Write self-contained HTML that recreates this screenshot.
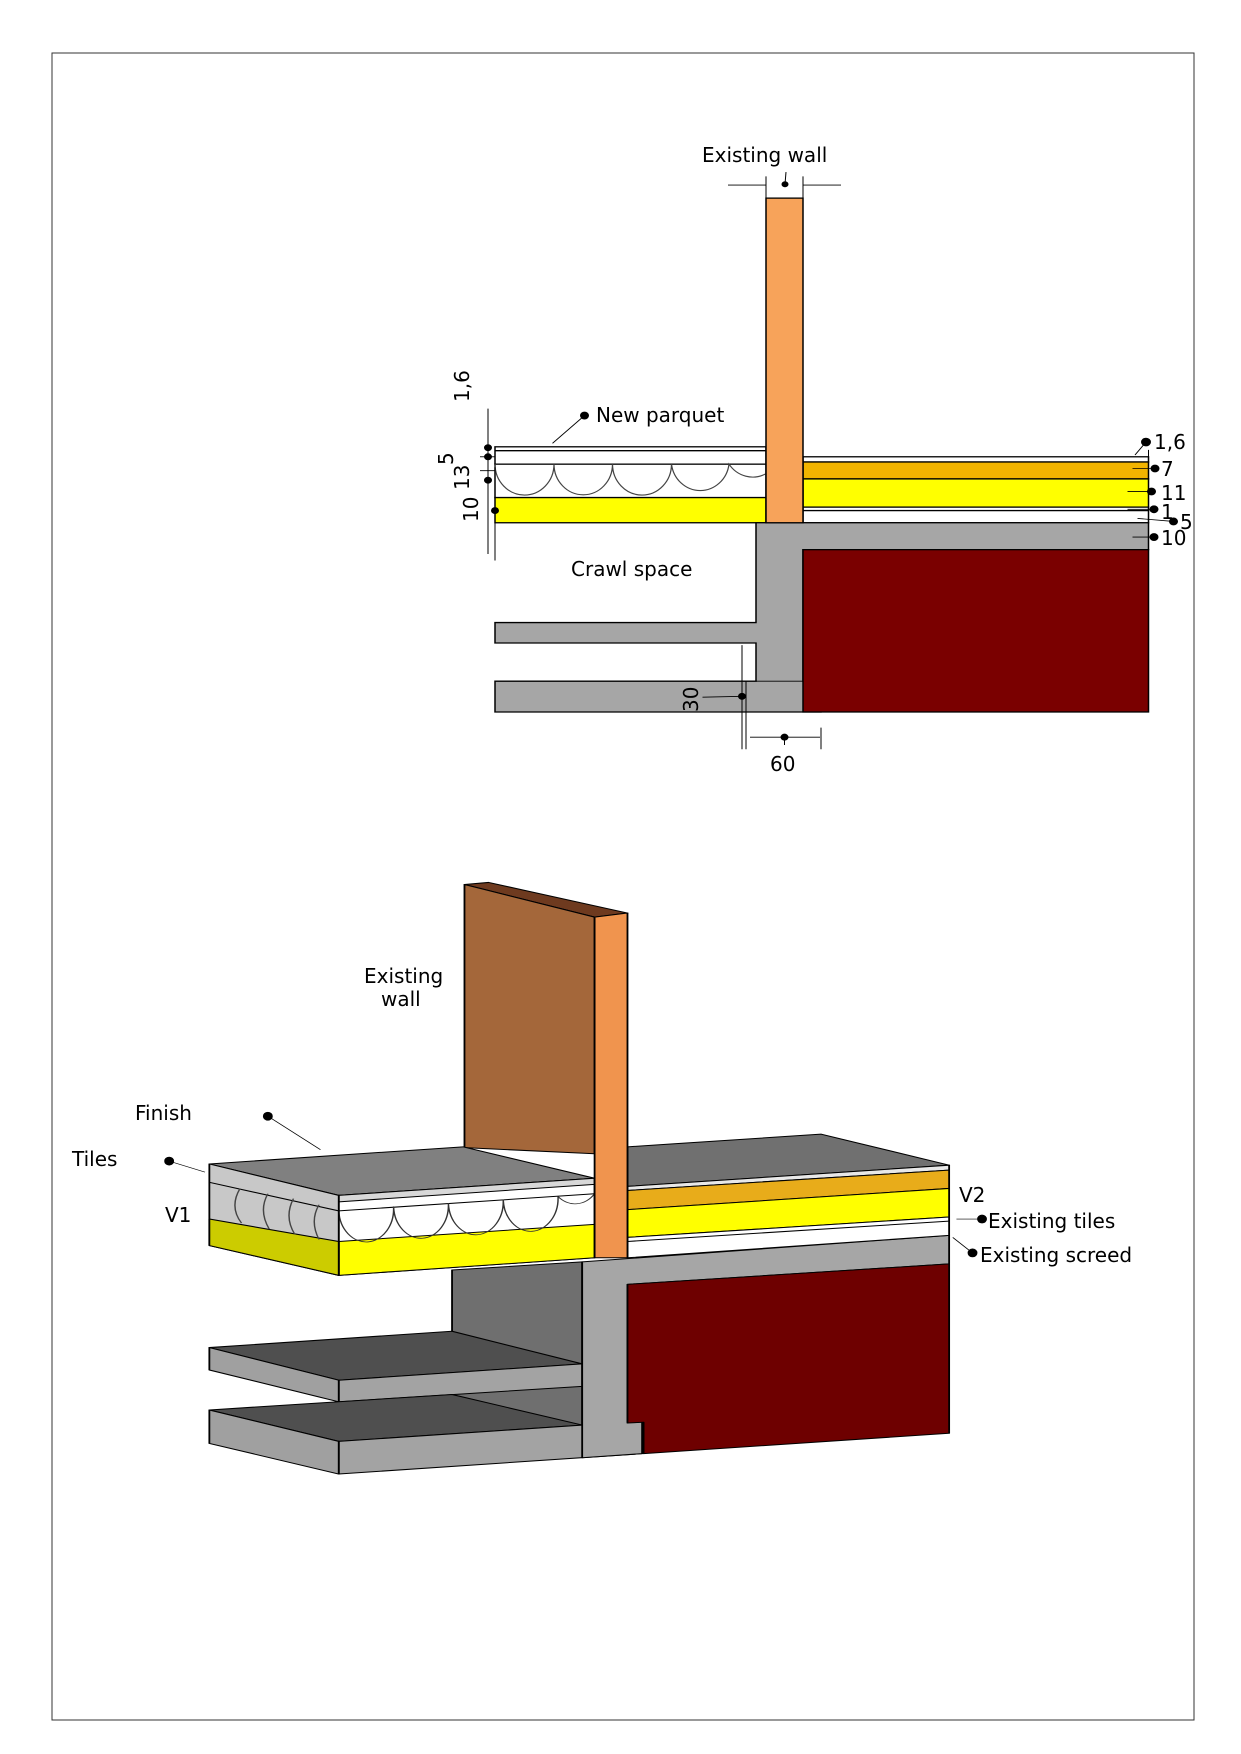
<!DOCTYPE html>
<html><head><meta charset="utf-8"><style>html,body{margin:0;padding:0;background:#fff;overflow:hidden}svg{display:block}text{font-family:"DejaVu Sans","Liberation Sans",sans-serif;fill:#000}</style></head>
<body>
<svg width="1241" height="1754" viewBox="0 0 1241 1754" xmlns="http://www.w3.org/2000/svg">
<rect x="52" y="53" width="1142" height="1667" fill="none" stroke="#333" stroke-width="1"/>
<g transform="translate(440,120) scale(0.5,0.434)" stroke="#000" stroke-width="3">
 <rect x="110" y="753" width="542" height="40" fill="#fff"/>
 <line x1="110" y1="762" x2="652" y2="762"/>
 <rect x="110" y="793" width="542" height="77" fill="#fff"/>
 <path d="M110,793 A58,70 0 0 0 228,793 A58,70 0 0 0 345,793 A58,70 0 0 0 463,793 A58,70 0 0 0 578,793 A58,70 0 0 0 652,815" fill="none" stroke="#444" stroke-width="2.5"/>
 <rect x="110" y="870" width="542" height="58" fill="#ffff00"/>
 <rect x="726" y="776" width="691" height="12" fill="#fff"/>
 <rect x="726" y="788" width="691" height="39" fill="#f2b400"/>
 <rect x="726" y="827" width="691" height="65" fill="#ffff00"/>
 <rect x="726" y="892" width="691" height="8" fill="#fff"/>
 <rect x="726" y="900" width="691" height="28" fill="#fff"/>
 <path d="M632,928 L1417,928 L1417,990 L726,990 L726,1293 L762,1293 L762,1364 L110,1364 L110,1293 L632,1293 L632,1205 L110,1205 L110,1158 L632,1158 Z" fill="#a6a6a6"/>
 <line x1="632" y1="1293" x2="726" y2="1293" stroke-width="2"/>
 <rect x="726" y="990" width="691" height="374" fill="#7a0000"/>
 <rect x="652" y="180" width="74" height="748" fill="#f7a35a"/>
 <g stroke-width="2" fill="#000">
  <line x1="576" y1="150" x2="652" y2="150"/><line x1="726" y1="150" x2="802" y2="150"/>
  <circle cx="690" cy="148" r="6"/><line x1="692" y1="120" x2="690" y2="148"/>
  <line x1="652" y1="130" x2="652" y2="180"/><line x1="726" y1="130" x2="726" y2="180"/>
  <circle cx="289" cy="681" r="8"/><line x1="289" y1="681" x2="225" y2="745"/>
  <line x1="96" y1="665" x2="96" y2="1000"/><line x1="110" y1="800" x2="110" y2="1015"/>
  <line x1="80" y1="776" x2="110" y2="776"/><line x1="80" y1="808" x2="110" y2="808"/>
  <circle cx="96" cy="755" r="7"/><circle cx="96" cy="776" r="7"/><circle cx="96" cy="830" r="7"/><circle cx="110" cy="900" r="7"/>
  <line x1="1417" y1="760" x2="1417" y2="980"/>
  <circle cx="1412" cy="742" r="9"/><line x1="1412" y1="742" x2="1390" y2="772"/>
  <circle cx="1430" cy="803" r="8"/><line x1="1385" y1="803" x2="1430" y2="803"/>
  <circle cx="1423" cy="856" r="8"/><line x1="1375" y1="856" x2="1423" y2="856"/>
  <circle cx="1428" cy="897" r="8"/><line x1="1375" y1="897" x2="1428" y2="897"/>
  <circle cx="1467" cy="925" r="8"/><line x1="1395" y1="918" x2="1467" y2="925"/>
  <circle cx="1428" cy="961" r="8"/><line x1="1385" y1="961" x2="1428" y2="961"/>
  <line x1="604" y1="1210" x2="604" y2="1450"/><line x1="612" y1="1293" x2="612" y2="1450"/>
  <circle cx="604" cy="1328" r="7"/><line x1="525" y1="1330" x2="604" y2="1328"/>
  <line x1="620" y1="1422" x2="760" y2="1422"/><circle cx="689" cy="1422" r="7"/>
  <line x1="762" y1="1400" x2="762" y2="1450"/><line x1="689" y1="1422" x2="689" y2="1440"/>
 </g>
</g>
<g font-size="20">
 <text x="702" y="162">Existing wall</text>
 <text x="596" y="422">New parquet</text>
 <text x="571" y="576">Crawl space</text>
 <text x="770" y="771">60</text>
 <text x="1154" y="449">1,6</text>
 <text x="1161" y="476">7</text>
 <text x="1161" y="500">11</text>
 <text x="1161" y="519">1</text>
 <text x="1180" y="529">5</text>
 <text x="1161" y="545">10</text>
 <text transform="translate(698,712) rotate(-90)">30</text>
 <text transform="translate(469,402) rotate(-90)">1,6</text>
 <text transform="translate(453,465) rotate(-90)">5</text>
 <text transform="translate(469,490) rotate(-90)">13</text>
 <text transform="translate(478,522) rotate(-90)">10</text>
</g>
<g transform="translate(50,860) scale(0.731,0.408)" stroke="#000" stroke-width="2.5" stroke-linejoin="round">
 <polygon points="550,1005 728,985 728,1390 550,1390" fill="#6f6f6f"/>
 <polygon points="218,1195 550,1155 728,1235 395,1275" fill="#4f4f4f"/>
 <polygon points="395,1275 728,1235 728,1290 395,1328" fill="#a3a3a3"/>
 <polygon points="218,1195 395,1275 395,1328 218,1250" fill="#a0a0a0"/>
 <polygon points="218,1348 550,1310 728,1385 395,1425" fill="#4f4f4f"/>
 <polygon points="395,1425 728,1385 810,1378 810,1455 395,1505" fill="#a3a3a3"/>
 <polygon points="218,1348 395,1425 395,1505 218,1430" fill="#a0a0a0"/>
 <polygon points="728,985 1230,920 1230,990 790,1040 790,1378 810,1375 810,1455 728,1465" fill="#a6a6a6"/>
 <polygon points="790,1040 1230,990 1230,1405 812,1455 812,1378 790,1380" fill="#6e0000"/>
 <polygon points="567,60 600,55 790,130 745,140" fill="#6e3a1f"/>
 <polygon points="567,60 745,140 745,720 567,705" fill="#a4673a"/>
 <polygon points="218,745 565,703 745,780 395,822" fill="#808080"/>
 <polygon points="395,822 745,780 745,975 395,1018" fill="#fff"/>
 <polygon points="395,822 745,780 745,795 395,838" fill="#d8d8d8"/>
 <line x1="395" y1="860" x2="745" y2="818"/>
 <polygon points="395,935 745,893 745,975 395,1018" fill="#ffff00"/>
 <path d="M395,860 A37,80 0 0 0 470,850 A37,80 0 0 0 545,842 A37,80 0 0 0 620,833 A37,80 0 0 0 695,825 A37,80 0 0 0 745,818" fill="none" stroke="#333" stroke-width="2"/>
 <polygon points="218,745 395,822 395,1018 218,945" fill="#c8c8c8"/>
 <line x1="218" y1="790" x2="395" y2="860"/>
 <polygon points="218,880 395,935 395,1018 218,945" fill="#cccc00"/>
 <path d="M260,805 Q245,850 262,890 M298,818 Q285,860 300,905 M333,830 Q320,875 335,918 M368,845 Q355,885 368,930" fill="none" stroke="#444" stroke-width="2"/>
 <polygon points="790,703 1055,672 1230,748 790,800" fill="#707070"/>
 <polygon points="790,800 1230,748 1230,760 790,810" fill="#e8e8e8"/>
 <polygon points="790,810 1230,760 1230,805 790,857" fill="#e8ac1a"/>
 <polygon points="790,857 1230,805 1230,875 790,925" fill="#ffff00"/>
 <polygon points="790,925 1230,875 1230,920 790,975" fill="#fff"/>
 <line x1="790" y1="935" x2="1230" y2="885"/>
 <polygon points="745,140 790,130 790,975 745,975" fill="#f0944e"/>
 <g stroke-width="1.5" fill="#000">
  <ellipse cx="298" cy="628" rx="6" ry="10"/><line x1="298" y1="628" x2="370" y2="710"/>
  <ellipse cx="163" cy="738" rx="6" ry="10"/><line x1="163" y1="738" x2="212" y2="765"/>
  <ellipse cx="1275" cy="880" rx="6" ry="10"/><line x1="1240" y1="880" x2="1275" y2="880"/>
  <ellipse cx="1262" cy="963" rx="6" ry="10"/><line x1="1235" y1="925" x2="1262" y2="963"/>
 </g>
</g>
<g font-size="20">
 <text x="364" y="983">Existing</text>
 <text x="381" y="1006">wall</text>
 <text x="135" y="1120">Finish</text>
 <text x="72" y="1166">Tiles</text>
 <text x="165" y="1222">V1</text>
 <text x="959" y="1202">V2</text>
 <text x="988" y="1228">Existing tiles</text>
 <text x="980" y="1262">Existing screed</text>
</g>
</svg>
</body></html>
